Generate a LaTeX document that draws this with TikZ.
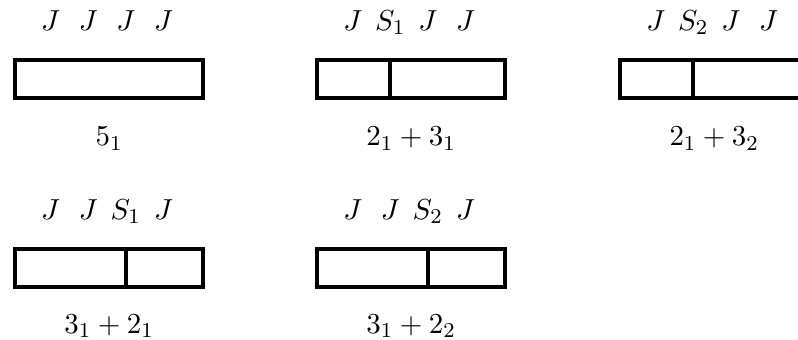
\documentclass[11pt,tikz,border=0pt]{standalone}
\usepackage{tikz}
\usetikzlibrary{calc, positioning}

\begin{document}
\begin{tikzpicture}[
  bar/.style={draw,line width=1.6pt,minimum width=2.5cm,minimum height=0.5cm,inner sep=0pt,anchor=north west},
  cut/.style={line width=1.6pt},
  lab/.style={anchor=base,inner sep=0pt}]
\useasboundingbox (0,0) rectangle (10.61,-4.51);
% --- row 1: 5_1, 2_1+3_1, 2_1+3_2 ---
\node[bar] (bA) at (0.173,-0.771) {};
\foreach \t [count=\i] in {J,J,J,J}
  \node[lab] (bA\i) at ($(bA.north west)+(0.5*\i,0.37)$) {$\t$};
\node[lab] (sA) at ($(bA.south)+(0,-0.61)$) {$5_1$};

\node[bar] (bB) at (4.189,-0.771) {};
\draw[cut] ($(bB.north west)+(1,0)$) -- ($(bB.south west)+(1,0)$);
\foreach \t [count=\i] in {J,S_1,J,J}
  \node[lab] (bB\i) at ($(bB.north west)+(0.5*\i,0.37)$) {$\t$};
\node[lab] (sB) at ($(bB.south)+(0,-0.61)$) {$2_1+3_1$};

\node[bar] (bC) at (8.218,-0.771) {};
\draw[cut] ($(bC.north west)+(1,0)$) -- ($(bC.south west)+(1,0)$);
\foreach \t [count=\i] in {J,S_2,J,J}
  \node[lab] (bC\i) at ($(bC.north west)+(0.5*\i,0.37)$) {$\t$};
\node[lab] (sC) at ($(bC.south)+(0,-0.61)$) {$2_1+3_2$};

% --- row 2: 3_1+2_1, 3_1+2_2 ---
\node[bar] (bD) at (0.173,-3.285) {};
\draw[cut] ($(bD.north west)+(1.5,0)$) -- ($(bD.south west)+(1.5,0)$);
\foreach \t [count=\i] in {J,J,S_1,J}
  \node[lab] (bD\i) at ($(bD.north west)+(0.5*\i,0.37)$) {$\t$};
\node[lab] (sD) at ($(bD.south)+(0,-0.59)$) {$3_1+2_1$};

\node[bar] (bE) at (4.189,-3.285) {};
\draw[cut] ($(bE.north west)+(1.5,0)$) -- ($(bE.south west)+(1.5,0)$);
\foreach \t [count=\i] in {J,J,S_2,J}
  \node[lab] (bE\i) at ($(bE.north west)+(0.5*\i,0.37)$) {$\t$};
\node[lab] (sE) at ($(bE.south)+(0,-0.59)$) {$3_1+2_2$};
\end{tikzpicture}
\end{document}
